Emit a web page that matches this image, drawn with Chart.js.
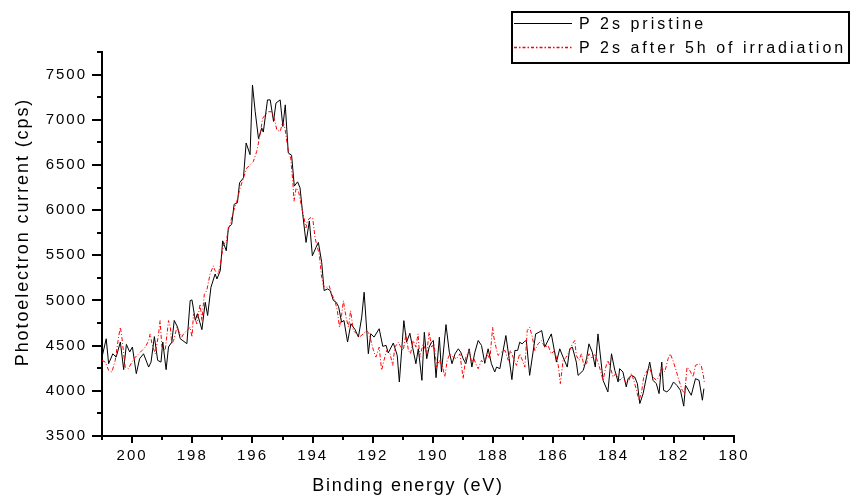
<!DOCTYPE html>
<html><head><meta charset="utf-8">
<script src="https://cdn.jsdelivr.net/npm/chart.js@4"></script>
<style>html,body{margin:0;padding:0;background:#fff}canvas{display:block}</style>
</head><body>
<canvas id="c" width="851" height="498"></canvas>
<script>
const seriesLabels = ['P 2s pristine', 'P 2s after 5h of irradiation'];
const seriesColors = ['#000000', '#ff0000'];
const xTitle = 'Binding energy (eV)';
const yTitle = 'Photoelectron current (cps)';
const xTickValues = [200, 198, 196, 194, 192, 190, 188, 186, 184, 182, 180];
const yTickValues = [3500, 4000, 4500, 5000, 5500, 6000, 6500, 7000, 7500];

const pristineE = [201.00,200.86,200.78,200.64,200.53,200.39,200.28,200.19,200.08,199.99,199.86,199.75,199.62,199.45,199.37,199.26,199.15,199.04,198.98,198.87,198.79,198.68,198.60,198.49,198.40,198.18,198.07,198.01,197.90,197.83,197.68,197.57,197.49,197.38,197.24,197.18,197.07,196.99,196.87,196.80,196.69,196.61,196.50,196.43,196.30,196.21,196.08,196.00,195.91,195.80,195.69,195.64,195.50,195.41,195.30,195.22,195.08,194.99,194.91,194.81,194.70,194.61,194.50,194.42,194.33,194.22,194.11,194.01,193.89,193.81,193.70,193.62,193.50,193.42,193.31,193.22,193.14,193.04,192.96,192.84,192.73,192.59,192.48,192.37,192.29,192.15,192.07,191.96,191.79,191.67,191.56,191.49,191.32,191.19,191.12,190.97,190.88,190.77,190.68,190.57,190.49,190.37,190.29,190.21,190.13,190.05,189.99,189.90,189.79,189.72,189.57,189.46,189.37,189.27,189.16,189.08,189.00,188.91,188.80,188.71,188.61,188.50,188.39,188.28,188.17,188.06,187.95,187.89,187.78,187.58,187.47,187.38,187.28,187.19,187.12,187.04,186.95,186.90,186.79,186.59,186.48,186.39,186.29,186.18,186.07,185.90,185.79,185.68,185.54,185.46,185.37,185.24,185.18,185.01,184.90,184.82,184.71,184.61,184.52,184.35,184.19,184.07,183.96,183.85,183.80,183.69,183.58,183.52,183.41,183.30,183.21,183.13,183.02,182.91,182.80,182.69,182.58,182.49,182.40,182.34,182.23,182.12,182.01,181.90,181.78,181.67,181.61,181.42,181.28,181.16,181.05,181.00];
const pristineCps = [4373,4576,4300,4410,4373,4540,4234,4514,4430,4485,4190,4355,4410,4263,4318,4600,4337,4318,4540,4234,4485,4540,4779,4705,4577,4522,4999,5006,4780,4853,4677,4980,4834,5146,5293,5238,5330,5660,5550,5807,5844,6064,6082,6302,6357,6743,6614,7385,7092,6791,6908,6864,7220,7220,6982,7184,7220,6926,7165,6633,6607,6266,6313,6247,5954,5642,5880,5495,5587,5642,5422,5110,5128,5110,4999,4980,4933,4760,4779,4540,4742,4677,4595,4816,5091,4410,4632,4595,4687,4492,4503,4419,4529,4392,4098,4777,4538,4637,4483,4300,4465,4116,4648,4355,4483,4538,4557,4146,4593,4208,4733,4428,4300,4410,4465,4428,4355,4300,4465,4263,4428,4557,4502,4307,4465,4300,4208,4263,4245,4612,4355,4124,4447,4447,4538,4520,4549,4557,4171,4630,4648,4667,4483,4557,4630,4318,4465,4373,4263,4465,4483,4318,4171,4226,4355,4520,4428,4263,4630,4116,3988,4410,4226,4098,4245,4208,4043,4135,4171,4153,4079,3859,3969,4153,4318,4116,4079,3969,4318,4006,3988,4024,4098,4061,4006,3830,4061,3951,4135,4116,3896,4024];

const irradiatedE = [201.00,200.89,200.78,200.67,200.56,200.45,200.39,200.34,200.23,200.12,200.01,199.89,199.78,199.67,199.56,199.45,199.40,199.34,199.23,199.12,199.07,199.01,198.90,198.79,198.73,198.68,198.62,198.51,198.46,198.35,198.29,198.18,198.07,198.01,197.96,197.85,197.74,197.68,197.60,197.52,197.41,197.30,197.24,197.13,197.07,196.96,196.87,196.80,196.72,196.63,196.52,196.41,196.30,196.19,196.08,195.97,195.86,195.77,195.66,195.58,195.47,195.36,195.28,195.19,195.08,194.99,194.92,194.81,194.73,194.66,194.62,194.55,194.47,194.36,194.29,194.22,194.18,194.09,194.00,193.92,193.87,193.78,193.70,193.64,193.53,193.45,193.37,193.26,193.18,193.11,193.04,192.98,192.89,192.81,192.74,192.65,192.54,192.45,192.32,192.21,192.12,191.98,191.90,191.79,191.71,191.63,191.54,191.43,191.34,191.27,191.15,191.10,190.99,190.90,190.82,190.75,190.66,190.57,190.50,190.44,190.33,190.21,190.13,190.05,189.97,189.88,189.79,189.68,189.61,189.53,189.44,189.33,189.22,189.11,189.05,189.00,188.91,188.80,188.72,188.64,188.58,188.50,188.39,188.28,188.22,188.11,188.02,187.98,187.91,187.84,187.73,187.61,187.50,187.43,187.32,187.23,187.12,187.03,186.95,186.87,186.79,186.70,186.62,186.51,186.40,186.29,186.18,186.07,185.96,185.84,185.77,185.68,185.57,185.46,185.37,185.29,185.24,185.15,185.07,184.99,184.90,184.82,184.71,184.63,184.52,184.44,184.35,184.26,184.19,184.11,184.02,183.93,183.80,183.69,183.58,183.49,183.41,183.33,183.24,183.16,183.08,183.00,182.91,182.82,182.69,182.58,182.49,182.42,182.30,182.19,182.12,182.03,181.94,181.83,181.72,181.64,181.56,181.47,181.36,181.28,181.16,181.09,181.01,180.98];
const irradiatedCps = [4337,4318,4227,4208,4337,4594,4704,4594,4263,4245,4318,4373,4410,4447,4484,4557,4630,4520,4410,4630,4777,4484,4447,4777,4704,4520,4557,4704,4667,4594,4630,4667,4704,4594,4851,4741,4961,4777,5071,5108,5291,5383,5328,5291,5401,5621,5658,5786,5878,5988,6098,6245,6355,6465,6502,6539,6649,6796,7016,7053,7089,7089,7016,6888,6869,6979,6906,6649,6575,6319,6098,6245,6209,6025,5915,5805,5878,5915,5915,5695,5621,5511,5254,5162,5144,5162,5071,4998,4887,4704,4832,4998,4814,4704,4888,4667,4630,4594,4630,4667,4630,4447,4373,4484,4227,4337,4447,4410,4282,4484,4539,4502,4447,4630,4447,4410,4557,4484,4630,4373,4520,4410,4649,4484,4520,4263,4337,4263,4153,4337,4410,4373,4355,4410,4263,4135,4373,4447,4318,4355,4300,4245,4337,4300,4410,4355,4704,4594,4484,4392,4428,4447,4337,4447,4355,4282,4410,4337,4263,4667,4704,4594,4447,4520,4557,4484,4502,4410,4447,4282,4080,4337,4373,4447,4520,4557,4392,4337,4410,4282,4300,4410,4355,4410,4318,4227,4116,4263,4337,4263,4153,4190,4116,4153,4080,4116,4190,4116,4006,3896,3970,4153,4208,4263,4153,4116,4153,4263,4208,4355,4410,4337,4245,4116,4006,3970,4263,4227,4153,4282,4300,4282,4153,4080];

const FONT = '"Liberation Sans", Arial, Helvetica, sans-serif';
const DASH = [4, 2, 1, 2];
const toPts = (xs, ys) => xs.map((e, i) => ({ x: e, y: ys[i] }));

const spacing = {
  id: 'spacing',
  beforeDraw(chart) { chart.ctx.letterSpacing = '2px'; },
  afterDraw(chart) { chart.ctx.letterSpacing = '0px'; }
};

const decor = {
  id: 'decor',
  afterDraw(chart) {
    const { ctx, scales: { x, y }, chartArea: a } = chart;
    ctx.save();
    ctx.strokeStyle = '#000';
    ctx.lineWidth = 2;
    for (let v = Math.ceil(x.min); v <= x.max; v++) {
      const px = Math.round(x.getPixelForValue(v));
      const len = v % 2 === 0 ? 7 : 4;
      ctx.beginPath(); ctx.moveTo(px, a.bottom); ctx.lineTo(px, a.bottom + len); ctx.stroke();
    }
    for (let v = y.min; v <= y.max; v += 250) {
      const py = Math.round(y.getPixelForValue(v));
      const len = v % 500 === 0 ? 10 : 5;
      ctx.beginPath(); ctx.moveTo(a.left, py); ctx.lineTo(a.left - len, py); ctx.stroke();
    }
    ctx.fillStyle = '#000';
    ctx.textAlign = 'center';
    ctx.textBaseline = 'middle';
    ctx.font = '18px ' + FONT;
    ctx.letterSpacing = '1.7px';
    ctx.fillText(xTitle, 408, 486);
    ctx.save();
    ctx.translate(23, 232);
    ctx.rotate(-Math.PI / 2);
    ctx.letterSpacing = '1.9px';
    ctx.fillText(yTitle, 0, 0);
    ctx.restore();
    // legend
    ctx.strokeStyle = '#000';
    ctx.lineWidth = 2;
    ctx.strokeRect(512, 12, 337, 51);
    const rows = [23.5, 47.5];
    ctx.textAlign = 'left';
    ctx.textBaseline = 'alphabetic';
    ctx.font = '16px ' + FONT;
    ctx.letterSpacing = '3px';
    seriesLabels.forEach((label, i) => {
      ctx.save();
      ctx.strokeStyle = seriesColors[i];
      ctx.lineWidth = i === 1 ? 1.5 : 1;
      ctx.setLineDash(i === 1 ? [3, 2, 1.5, 2] : []);
      ctx.beginPath(); ctx.moveTo(514, rows[i]); ctx.lineTo(572, rows[i]); ctx.stroke();
      ctx.restore();
      ctx.fillStyle = '#000';
      ctx.fillText(label, 579, rows[i] + 5.5);
    });
    ctx.restore();
  }
};

new Chart(document.getElementById('c'), {
  type: 'line',
  data: {
    datasets: [
      { label: seriesLabels[0], data: toPts(pristineE, pristineCps), borderColor: seriesColors[0], borderWidth: 1, pointRadius: 0, tension: 0, order: 1 },
      { label: seriesLabels[1], data: toPts(irradiatedE, irradiatedCps), borderColor: seriesColors[1], borderWidth: 1, borderDash: DASH, pointRadius: 0, tension: 0, order: 0 }
    ]
  },
  options: {
    responsive: false,
    animation: false,
    devicePixelRatio: 1,
    layout: { padding: { top: 52, right: 117, left: 0, bottom: 0 } },
    plugins: { legend: { display: false }, tooltip: { enabled: false } },
    scales: {
      x: {
        type: 'linear', reverse: true, min: 180, max: 201,
        afterFit: s => { s.height = 62; },
        afterBuildTicks: s => { s.ticks = xTickValues.map(v => ({ value: v })); },
        ticks: { autoSkip: false, maxRotation: 0, padding: 3, color: '#000', font: { family: FONT, size: 15 }, callback: v => String(v) },
        grid: { display: true, drawOnChartArea: false, drawTicks: true, tickLength: 8, color: 'rgba(0,0,0,0)' },
        border: { display: true, color: '#000', width: 2 }
      },
      y: {
        type: 'linear', min: 3500, max: 7750,
        afterFit: s => { s.width = 102; },
        afterBuildTicks: s => { s.ticks = yTickValues.map(v => ({ value: v })); },
        ticks: { padding: 3, color: '#000', font: { family: FONT, size: 15 }, callback: v => String(v) },
        grid: { display: true, drawOnChartArea: false, drawTicks: true, tickLength: 12, color: 'rgba(0,0,0,0)' },
        border: { display: true, color: '#000', width: 2 }
      }
    }
  },
  plugins: [spacing, decor]
});
</script>
</body></html>
